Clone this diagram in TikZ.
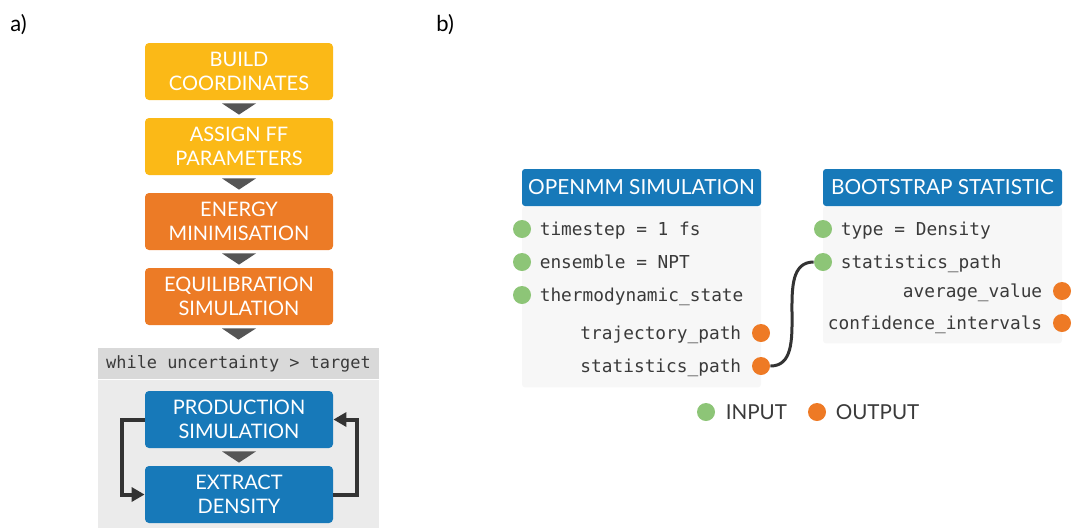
\documentclass[tikz,border=0pt]{standalone}
\usepackage{fontspec}
\setmainfont{Lato}
\setmonofont{DejaVu Sans Mono}
\usepackage{tikz}
\usetikzlibrary{arrows.meta,positioning}
\definecolor{ffyellow}{HTML}{FBB917}
\definecolor{fforange}{HTML}{EC7B26}
\definecolor{ffblue}{HTML}{1779B9}
\definecolor{ingreen}{HTML}{8DC577}
\definecolor{outorange}{HTML}{EE7A25}
\definecolor{tipgray}{HTML}{555555}
\definecolor{loophead}{HTML}{D9D9D9}
\definecolor{loopbg}{HTML}{EBEBEB}
\definecolor{panelbg}{HTML}{F7F7F7}
\definecolor{linkgray}{HTML}{333333}
\definecolor{textgray}{HTML}{3A3A3A}

\begin{document}
\begin{tikzpicture}[x=0.5pt,y=-0.5pt,
  stage/.style={fill=#1, rounded corners=2pt, minimum width=94pt, minimum height=28.5pt,
    inner sep=0pt, align=center, text=white, font=\fontsize{10}{12}\selectfont},
  header/.style={fill=ffblue, rounded corners=1.5pt, minimum width=119.5pt, minimum height=18.5pt,
    inner sep=0pt, text=white, font=\fontsize{10.4}{12}\selectfont},
  panel/.style={fill=panelbg, rounded corners=1.5pt, minimum width=119.5pt, anchor=north, inner sep=0pt},
  inport/.style={circle, fill=ingreen, minimum size=9pt, inner sep=0pt},
  outport/.style={circle, fill=outorange, minimum size=9pt, inner sep=0pt},
  param/.style={inner sep=0pt, text=textgray, text height=1.6ex, text depth=.4ex,
    font=\ttfamily\fontsize{8.9}{10}\selectfont},
  legend/.style={inner sep=0pt, text=textgray, font=\fontsize{10.3}{12}\selectfont},
  loopline/.style={draw=linkgray, line width=2pt, -{Triangle[width=7pt,length=6.5pt]}},
  link/.style={draw=linkgray, line width=1.5pt}]
\useasboundingbox (0,0) rectangle (1074,527);

\node[anchor=west, inner sep=0pt, font=\fontsize{11}{12}\selectfont] (labela) at (10,25) {a)};
\node[anchor=west, inner sep=0pt, font=\fontsize{11}{12}\selectfont] (labelb) at (436,25) {b)};

% a) workflow
\node[stage=ffyellow] (build) at (239,71.5) {BUILD\\COORDINATES};
\node[stage=ffyellow] (assign) at (239,146.5) {ASSIGN FF\\PARAMETERS};
\node[stage=fforange] (minim) at (239,221.5) {ENERGY\\MINIMISATION};
\node[stage=fforange] (equil) at (239,296.5) {EQUILIBRATION\\SIMULATION};

\node[fill=loophead, minimum width=140.5pt, minimum height=15.5pt, inner sep=0pt, text=textgray,
  font=\ttfamily\fontsize{8.45}{10}\selectfont] (loophead) at (238.5,363.5) {while uncertainty > target};
\node[fill=loopbg, minimum width=140.5pt, minimum height=74pt, inner sep=0pt, anchor=north] (loopbody) at (loophead.south) {};

\node[stage=ffblue] (prod) at (239,419.5) {PRODUCTION\\SIMULATION};
\node[stage=ffblue] (extract) at (239,494.5) {EXTRACT\\DENSITY};

\foreach \a/\b in {build/assign, assign/minim, minim/equil, prod/extract}
  \fill[tipgray] ([xshift=-8.5pt,yshift=-1.5pt]\a.south) -- ([xshift=8.5pt,yshift=-1.5pt]\a.south)
    -- ([yshift=1.5pt]\b.north) -- cycle;
\fill[tipgray] ([xshift=-8.5pt,yshift=-1.5pt]equil.south) -- ([xshift=8.5pt,yshift=-1.5pt]equil.south)
  -- ([yshift=4pt]loophead.north) -- cycle;

\draw[loopline] (prod.west) -- ++(-23,0) |- (extract.west);
\draw[loopline] (extract.east) -- ++(24,0) |- (prod.east);

% b) protocol graph
\node[panel, minimum height=90.5pt] (ommbody) at (641.5,206) {};
\node[header] (ommhead) at (641.5,187.5) {OPENMM SIMULATION};
\node[panel, minimum height=68.5pt] (bootbody) at (942.5,206) {};
\node[header] (boothead) at (942.5,187.5) {BOOTSTRAP STATISTIC};

\node[inport] (ommin1) at (522,229) {};
\node[inport] (ommin2) at (522,262) {};
\node[inport] (ommin3) at (522,295) {};
\node[outport] (ommout1) at (761,333) {};
\node[outport] (ommout2) at (761,366) {};
\node[param, right=4pt of ommin1] (ts) {timestep = 1 fs};
\node[param, right=4pt of ommin2] (ens) {ensemble = NPT};
\node[param, right=4pt of ommin3] (state) {thermodynamic\_state};
\node[param, left=5pt of ommout1] (traj) {trajectory\_path};
\node[param, left=5pt of ommout2] (stats) {statistics\_path};

\node[inport] (bootin1) at (823,229) {};
\node[inport] (bootin2) at (823,262) {};
\node[outport] (bootout1) at (1062,291) {};
\node[outport] (bootout2) at (1062,323) {};
\node[param, right=4pt of bootin1] (type) {type = Density};
\node[param, right=4pt of bootin2] (bstats) {statistics\_path};
\node[param, left=5pt of bootout1] (avg) {average\_value};
\node[param, left=5pt of bootout2] (ci) {confidence\_intervals};

\draw[link] (ommout2.east) to[out=0, in=180] (bootin2.west);

\node[inport] (legin) at (706,412) {};
\node[legend, right=5pt of legin] (legintext) {INPUT};
\node[outport] (legout) at (817,412) {};
\node[legend, right=4.5pt of legout] (legouttext) {OUTPUT};
\end{tikzpicture}
\end{document}
